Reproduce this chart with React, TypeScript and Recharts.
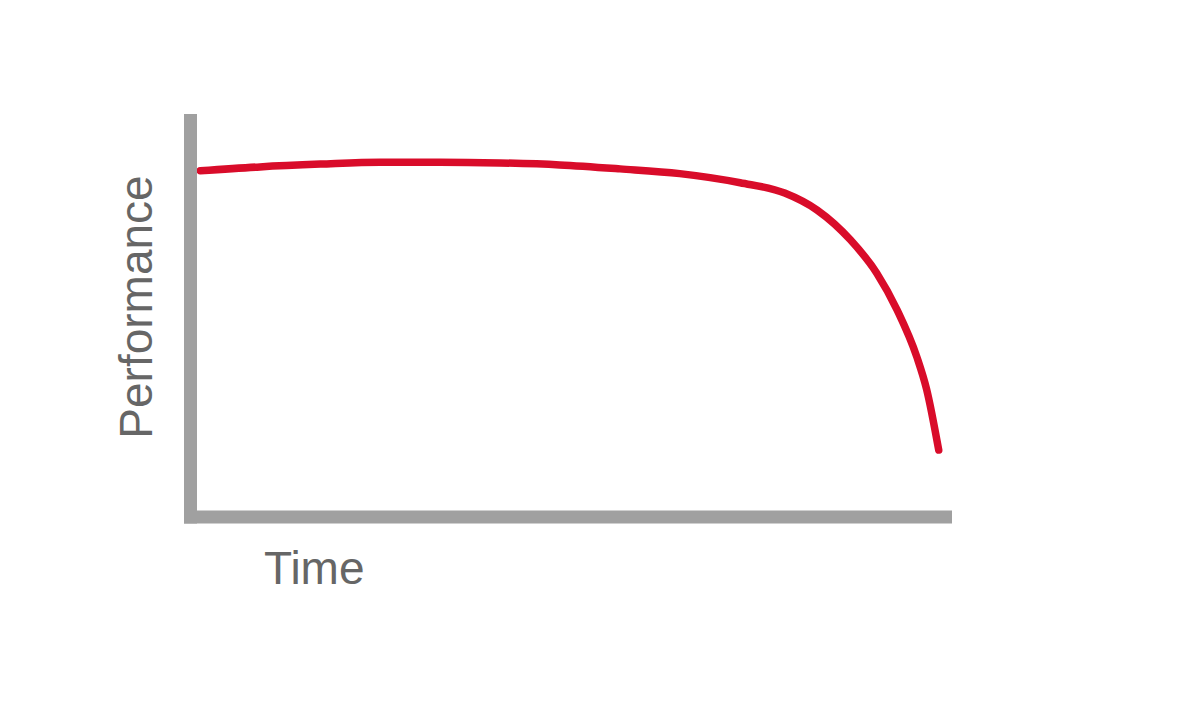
import React from 'react';
import { LineChart, Line, XAxis, YAxis, Customized } from 'recharts';

const timeValues = [1.3, 9.2, 17.2, 25.1, 33.0, 41.0, 48.9, 56.9, 64.8, 72.8, 78.7, 83.0, 87.4, 90.9, 93.6, 96.2, 97.5, 99.1];
const performanceValues = [87.3, 88.3, 89.0, 89.5, 89.5, 89.3, 88.8, 87.8, 86.6, 84.3, 81.7, 77.4, 69.9, 61.5, 52.2, 40.4, 32.2, 16.9];
const xAxisTitle = 'Time';
const yAxisTitle = 'Performance';

const data = timeValues.map((t, i) => ({ t, v: performanceValues[i] }));

const AXIS_COLOR = '#a0a0a0';
const TEXT_COLOR = '#666666';
const LINE_COLOR = '#d90c2a';

const Titles = () => (
  <g>
    <text
      x={152}
      y={307}
      transform="rotate(-90, 152, 307)"
      textAnchor="middle"
      fontFamily="'Liberation Sans', Arial, sans-serif"
      fontSize={46}
      fill={TEXT_COLOR}
    >
      {yAxisTitle}
    </text>
    <text
      x={264}
      y={584}
      textAnchor="start"
      fontFamily="'Liberation Sans', Arial, sans-serif"
      fontSize={46}
      fill={TEXT_COLOR}
    >
      {xAxisTitle}
    </text>
  </g>
);

export default function App() {
  return (
    <div style={{ position: 'absolute', left: 0, top: 0, width: 1200, height: 713, background: '#fff' }}>
      <LineChart
        width={1200}
        height={713}
        data={data}
        margin={{ top: 120.5, left: 189.5, right: 254.5, bottom: 195 }}
      >
        <XAxis
          dataKey="t"
          type="number"
          domain={[0, 100]}
          height={1}
          tick={false}
          tickLine={false}
          axisLine={{ stroke: AXIS_COLOR, strokeWidth: 13, strokeLinecap: 'square' }}
        />
        <YAxis
          type="number"
          domain={[0, 100]}
          width={1}
          tick={false}
          tickLine={false}
          axisLine={{ stroke: AXIS_COLOR, strokeWidth: 13, strokeLinecap: 'square' }}
        />
        <Line
          type="monotone"
          dataKey="v"
          stroke={LINE_COLOR}
          strokeWidth={7.5}
          strokeLinecap="round"
          dot={false}
          activeDot={false}
          isAnimationActive={false}
        />
        <Customized component={Titles} />
      </LineChart>
    </div>
  );
}
